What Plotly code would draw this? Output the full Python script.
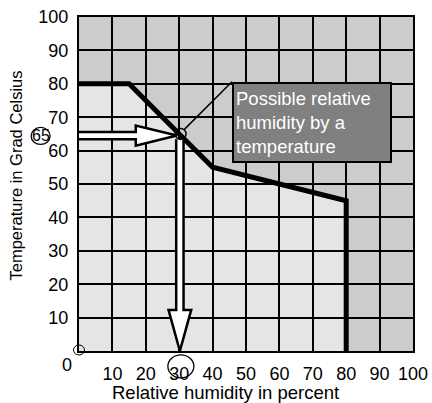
import plotly.graph_objects as go

# ---- data ----
hum = [0, 15, 30, 40, 80, 80]          # relative humidity (%) along the limit curve
temp = [80, 80, 65, 55, 45, 0]         # temperature (°C) along the limit curve
x_ticks = [10, 20, 30, 40, 50, 60, 70, 80, 90, 100]
y_ticks = [10, 20, 30, 40, 50, 60, 70, 80, 90, 100]
read_hum = 30
read_temp = 65
box_text = "Possible relative<br>humidity by a<br>temperature"
box_x, box_y = 45.8, 80.6

FONT = "Liberation Sans, Arial, sans-serif"
W, H = 432, 403
L, R, T, B = 79, 19, 17, 52

fig = go.Figure()

# limit curve
fig.add_trace(go.Scatter(x=hum, y=temp, mode="lines",
                         line=dict(color="black", width=5),
                         hoverinfo="skip", showlegend=False))

shapes = []
# light "possible" region below the curve
pts = [(hum[0], 0)] + list(zip(hum, temp))
path = "M " + " L ".join(f"{a},{b}" for a, b in pts) + " Z"
shapes.append(dict(type="path", path=path, xref="x", yref="y", layer="below",
                   fillcolor="#e5e5e5", line=dict(width=0)))

# horizontal hollow arrow
cy = read_temp - 0.5
sh, hh = 1.1, 3.0
hx0, hbase, htip = 0, 17.0, read_hum - 0.7
hpath = (f"M {hx0},{cy+sh} L {hbase},{cy+sh} L {hbase},{cy+hh} L {htip},{cy} "
         f"L {hbase},{cy-hh} L {hbase},{cy-sh} L {hx0},{cy-sh}")
shapes.append(dict(type="path", path=hpath, xref="x", yref="y", layer="above",
                   fillcolor="white", line=dict(color="black", width=2.5)))

# vertical hollow arrow
cx = read_hum + 0.2
sw, hw = 1.1, 3.4
vtop, vbase, vtip = read_temp - 1.6, 12.3, 0
vpath = (f"M {cx-sw},{vtop} L {cx-sw},{vbase} L {cx-hw},{vbase} L {cx},{vtip} "
         f"L {cx+hw},{vbase} L {cx+sw},{vbase} L {cx+sw},{vtop}")
shapes.append(dict(type="path", path=vpath, xref="x", yref="y", layer="above",
                   fillcolor="white", line=dict(color="black", width=2.5)))

# circle at reading point
shapes.append(dict(type="circle", xref="x", yref="y", xsizemode="pixel", ysizemode="pixel",
                   xanchor=read_hum + 0.4, yanchor=read_temp, x0=-5.5, x1=5.5, y0=-5.5, y1=5.5,
                   line=dict(color="black", width=1.5), layer="above"))

# connector line to box
shapes.append(dict(type="line", xref="x", yref="y", x0=read_hum + 1.4, y0=read_temp + 1.2,
                   x1=box_x, y1=box_y, line=dict(color="black", width=1.5), layer="above"))

# small circle at origin
shapes.append(dict(type="circle", xref="paper", yref="paper", xsizemode="pixel", ysizemode="pixel",
                   xanchor=0.0, yanchor=0.003, x0=-5.5, x1=5.5, y0=-5, y1=5,
                   line=dict(color="black", width=1), layer="above"))

# circled tick 30
shapes.append(dict(type="circle", xref="paper", yref="paper", xsizemode="pixel", ysizemode="pixel",
                   xanchor=read_hum / 100 + 0.005, yanchor=-0.046, x0=-13, x1=13, y0=-11.5, y1=11.5,
                   line=dict(color="black", width=1.3), layer="above"))

# circled 65 label
shapes.append(dict(type="circle", xref="paper", yref="paper", xsizemode="pixel", ysizemode="pixel",
                   xanchor=-0.115, yanchor=0.644, x0=-9.5, x1=9.5, y0=-8.5, y1=8.5,
                   line=dict(color="black", width=1.3), layer="above"))

annotations = [
    dict(x=box_x, y=box_y, xref="x", yref="y", xanchor="left", yanchor="top",
         text=box_text, showarrow=False, align="left", width=152, height=73,
         valign="middle", bgcolor="#808080", bordercolor="black", borderwidth=2, borderpad=2,
         font=dict(family=FONT, size=18.5, color="white")),
    dict(x=-0.115, y=0.644, xref="paper", yref="paper", xanchor="center", yanchor="middle",
         text=str(read_temp), showarrow=False,
         font=dict(family=FONT, size=16, color="black")),
    dict(x=-0.036, y=-0.042, xref="paper", yref="paper", xanchor="center", yanchor="middle",
         text="0", showarrow=False,
         font=dict(family=FONT, size=18, color="black")),
    dict(x=0.44, y=-0.125, xref="paper", yref="paper", xanchor="center", yanchor="middle",
         text="Relative humidity in percent", showarrow=False,
         font=dict(family=FONT, size=18.5, color="black")),
    dict(x=-0.189, y=0.525, xref="paper", yref="paper", xanchor="center", yanchor="middle",
         textangle=-90, text="Temperature in Grad Celsius", showarrow=False,
         font=dict(family=FONT, size=16.5, color="black")),
]

axis_common = dict(range=[0, 100], showgrid=True, gridcolor="black", gridwidth=2,
                   showline=True, linecolor="black", linewidth=2, mirror=True,
                   zeroline=False, ticks="outside", ticklen=5, tickcolor="rgba(0,0,0,0)",
                   automargin=False,
                   tickfont=dict(family=FONT, size=18, color="black"), fixedrange=True)

fig.update_layout(
    width=W, height=H,
    margin=dict(l=L, r=R, t=T, b=B, pad=0, autoexpand=False),
    paper_bgcolor="white", plot_bgcolor="#cccccc",
    xaxis=dict(tickvals=x_ticks, ticktext=[str(v) for v in x_ticks], **axis_common),
    yaxis=dict(tickvals=y_ticks, ticktext=[str(v) for v in y_ticks], **axis_common),
    shapes=shapes, annotations=annotations, showlegend=False,
)

fig.write_html("out.html", config={"displayModeBar": False},
               post_script="document.body.style.margin='0';document.body.style.overflow='hidden';")
